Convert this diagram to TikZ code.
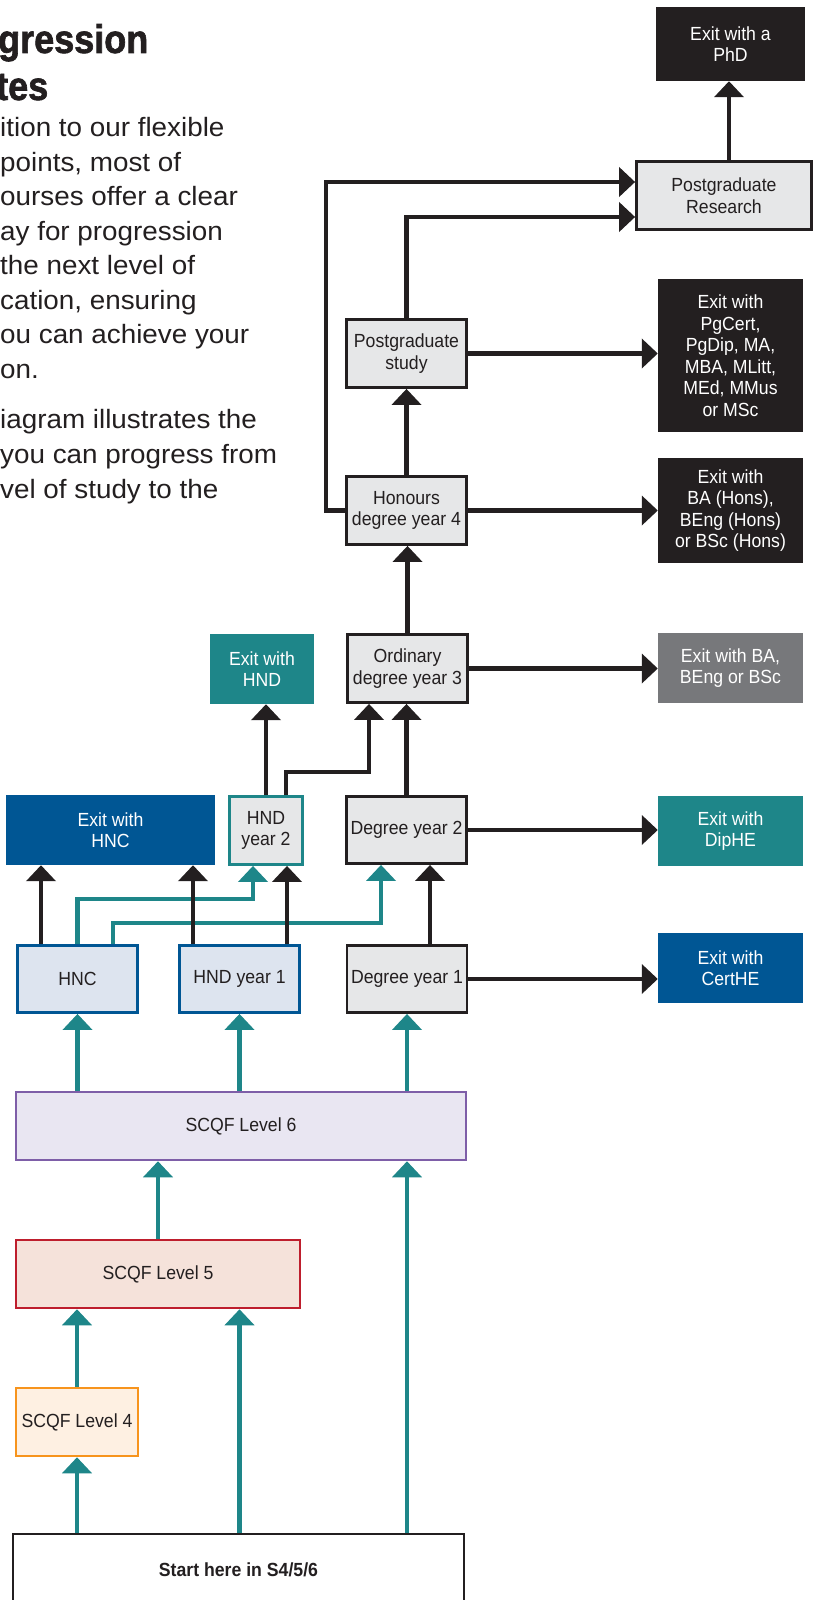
\documentclass[tikz,border=0pt]{standalone}
\usepackage{fontspec}
\setmainfont{Liberation Sans}
\newfontfamily\boxfamily[FakeStretch=0.93]{Liberation Sans}
\newfontfamily\bodyfamily[FakeStretch=1.05]{Liberation Sans}
\newfontfamily\headfamily[FakeStretch=0.9,FakeBold=1.6]{Liberation Sans Bold}
\usetikzlibrary{arrows.meta,positioning}
\definecolor{ink}{HTML}{231F20}
\definecolor{boxgray}{HTML}{E6E7E8}
\definecolor{teal}{HTML}{1E8689}
\definecolor{uniblue}{HTML}{005694}
\definecolor{exitgray}{HTML}{77787B}
\definecolor{hnfill}{HTML}{DDE4EF}
\definecolor{lsixfill}{HTML}{E9E6F2}
\definecolor{lsixline}{HTML}{7E5EA8}
\definecolor{lfivefill}{HTML}{F5E2DA}
\definecolor{lfiveline}{HTML}{BE1E2D}
\definecolor{lfourfill}{HTML}{FEF0E2}
\definecolor{lfourline}{HTML}{F7941D}
\newcommand\boxfont{\boxfamily\fontsize{19}{21.5}\selectfont}
\newcommand\bodyfont{\bodyfamily\fontsize{26.5}{34.5}\selectfont}
\begin{document}
\begin{tikzpicture}[x=1pt,y=-1pt,
  size/.style 2 args={minimum width=#1,minimum height=#2},
  box/.style={draw=ink,line width=2.8pt,fill=boxgray,text=ink,align=center,inner sep=0pt,font=\boxfont},
  exitbox/.style={fill=#1,text=white,align=center,inner sep=0pt,font=\boxfont},
  arr/.style={draw=ink,line width=4.3pt,-{Triangle[width=29pt,length=16pt]}},
  tarr/.style={arr,draw=teal,-{Triangle[width=29pt,length=16pt]}},
  head/.style={anchor=base west,inner sep=0pt,text=ink,font=\headfamily\fontsize{40}{47}\selectfont},
  txt/.style={anchor=base west,inner sep=0pt,text=ink,font=\bodyfont}]
\clip (0,0) rectangle (815,1600);
\fill[white] (0,0) rectangle (815,1600);

\node[head] (title1) at (-2,53) {gression};
\node[head] (title2) at (-4,100) {tes};
\foreach \line [count=\i] in {{ition to our flexible},{points, most of},{ourses offer a clear},{ay for progression},{the next level of},{cation, ensuring},{ou can achieve your},{on.}}
  \node[txt] (p\i) at (0,136.5+34.5*\i-34.5) {\line};
\foreach \line [count=\i] in {{iagram illustrates the},{you can progress from},{vel of study to the}}
  \node[txt] (q\i) at (0,428.5+34.8*\i-34.8) {\line};

\node[exitbox=ink,size={149pt}{74pt}] (phd) at (730.5,44) {Exit with a\\PhD};
\node[box,size={175pt}{68pt}] (pgres) at (724,195.5) {Postgraduate\\Research};
\node[box,size={120pt}{68pt}] (pgstudy) at (406.5,353.5) {Postgraduate\\study};
\node[exitbox=ink,size={145pt}{153pt}] (exitpg) at (730.5,355.5) {Exit with\\PgCert,\\PgDip, MA,\\MBA, MLitt,\\MEd, MMus\\or MSc};
\node[box,size={120pt}{68pt}] (honours) at (406.5,510.5) {Honours\\degree year 4};
\node[exitbox=ink,size={145pt}{105pt}] (exithons) at (730.5,510.5) {Exit with\\BA (Hons),\\BEng (Hons)\\or BSc (Hons)};
\node[box,size={120pt}{68pt}] (ordinary) at (407.5,668.5) {Ordinary\\degree year 3};
\node[exitbox=exitgray,size={145pt}{70pt}] (exitba) at (730.5,668) {Exit with BA,\\BEng or BSc};
\node[exitbox=teal,size={104pt}{70pt}] (exithnd) at (262,669) {Exit with\\HND};
\node[exitbox=uniblue,size={209pt}{70pt}] (exithnc) at (110.5,830) {Exit with\\HNC};
\node[box,draw=teal,size={73pt}{68pt}] (hnd2) at (266,830.5) {HND\\year 2};
\node[box,size={120pt}{67pt}] (deg2) at (406.5,830) {Degree year 2};
\node[exitbox=teal,size={145pt}{70pt}] (exitdip) at (730.5,831) {Exit with\\DipHE};
\node[box,draw=uniblue,fill=hnfill,size={120pt}{67pt}] (hnc) at (77.5,979) {HNC};
\node[box,draw=uniblue,fill=hnfill,size={120pt}{67pt}] (hnd1) at (239.5,979) {HND year 1};
\node[box,size={120pt}{67pt}] (deg1) at (407,979) {Degree year 1};
\node[exitbox=uniblue,size={145pt}{70pt}] (exitcert) at (730.5,968) {Exit with\\CertHE};
\node[box,draw=lsixline,fill=lsixfill,line width=2.5pt,size={450pt}{68pt}] (lev6) at (241,1126) {SCQF Level 6};
\node[box,draw=lfiveline,fill=lfivefill,line width=2.5pt,size={284pt}{68pt}] (lev5) at (158,1274) {SCQF Level 5};
\node[box,draw=lfourline,fill=lfourfill,line width=2.5pt,size={122pt}{68pt}] (lev4) at (77,1422) {SCQF Level 4};
\node[box,fill=white,size={451pt}{72pt},font=\boxfont\bfseries] (start) at (238.5,1570) {Start here in S4/5/6};

\draw[tarr] (lev4.south |- start.north) -- (lev4.south);
\draw[tarr] (hnd1.south |- start.north) -- (hnd1.south |- lev5.south);
\draw[tarr] (deg1.south |- start.north) -- (deg1.south |- lev6.south);
\draw[tarr] (lev4.north) -- (lev4.north |- lev5.south);
\draw[tarr] (lev5.north) -- (lev5.north |- lev6.south);
\draw[tarr] (hnc.south |- lev6.north) -- (hnc.south);
\draw[tarr] (hnd1.south |- lev6.north) -- (hnd1.south);
\draw[tarr] (deg1.south |- lev6.north) -- (deg1.south);
\draw[tarr] (hnc.north) -- ++(0,-45) -| ([xshift=-13pt]hnd2.south);
\draw[tarr] ([xshift=35.5pt]hnc.north) -- ++(0,-21) -| ([xshift=-25.5pt]deg2.south);

\draw[arr] ([xshift=-36.5pt]hnc.north) -- ([xshift=-36.5pt]hnc.north |- exithnc.south);
\draw[arr] ([xshift=-46.5pt]hnd1.north) -- ([xshift=-46.5pt]hnd1.north |- exithnc.south);
\draw[arr] ([xshift=47.5pt]hnd1.north) -- ([xshift=47.5pt]hnd1.north |- hnd2.south);
\draw[arr] ([xshift=23pt]deg1.north) -- ([xshift=23pt]deg1.north |- deg2.south);
\draw[arr] (deg1.east) -- (deg1.east -| exitcert.west);
\draw[arr] (deg2.east) -- (deg2.east -| exitdip.west);
\draw[arr] (hnd2.north) -- (hnd2.north |- exithnd.south);
\draw[arr] ([xshift=20pt]hnd2.north) -- ++(0,-23) -| ([xshift=-38.5pt]ordinary.south);
\draw[arr] (deg2.north) -- (deg2.north |- ordinary.south);
\draw[arr] (ordinary.east) -- (ordinary.east -| exitba.west);
\draw[arr] (ordinary.north) -- (ordinary.north |- honours.south);
\draw[arr] (honours.east) -- (honours.east -| exithons.west);
\draw[arr] (honours.north) -- (pgstudy.south);
\draw[arr] (pgstudy.east) -- (pgstudy.east -| exitpg.west);
\draw[arr] (honours.west) -- ++(-19,0) |- ([yshift=13.5pt]pgres.west);
\draw[arr] (pgstudy.north) |- ([yshift=-21.5pt]pgres.west);
\draw[arr] ([xshift=5pt]pgres.north) -- ([xshift=5pt]pgres.north |- phd.south);
\end{tikzpicture}
\end{document}
